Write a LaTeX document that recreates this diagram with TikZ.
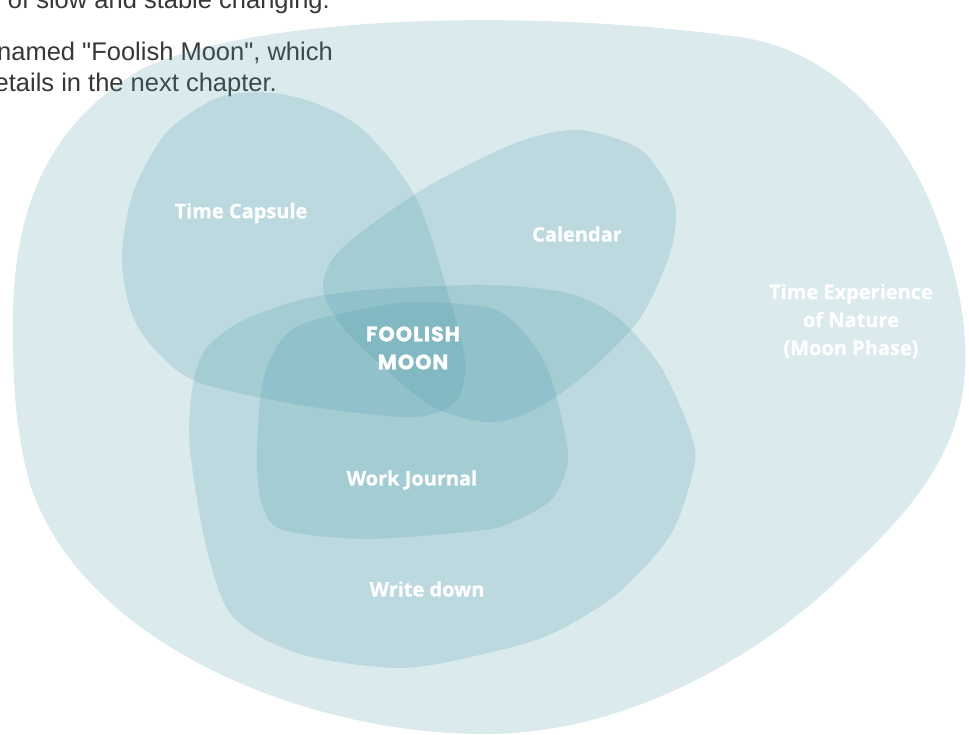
\documentclass[tikz,border=0pt]{standalone}
\usepackage{fontspec}
\newfontfamily\parafont{Liberation Sans}[Ligatures=TeXOff]
\newfontfamily\labelfont{Open Sans}[BoldFeatures={FakeBold=0.6}]
\newfontfamily\moonfont{Poppins}[LetterSpace=4,BoldFeatures={FakeBold=1}]

\definecolor{moonteal}{RGB}{70,150,165}
\definecolor{bodytext}{RGB}{55,55,55}

\tikzset{
  blob/.style={fill=moonteal, fill opacity=0.2},
  lbl/.style={text=white, align=center, inner sep=0pt,
    font=\labelfont\bfseries\fontsize{20}{28}\selectfont},
  para/.style={text=bodytext, anchor=base east, inner sep=0pt,
    font=\parafont\fontsize{25.5}{31}\selectfont}
}

\begin{document}
\begin{tikzpicture}[x=1pt,y=-1pt]
\useasboundingbox (0,0) rectangle (969,735);
\clip (0,0) rectangle (969,735);

% text of the page above the figure
\node[para] (line1) at (330,9) {of slow and stable changing.};
\node[para] (line2) at (333,61) {named "Foolish Moon", which};
\node[para] (line3) at (277,92) {etails in the next chapter.};

% time experience of nature
\fill[blob] (13,330) .. controls (12,220) and (40,130) .. (140,70)
  .. controls (240,20) and (500,5) .. (740,37)
  .. controls (860,55) and (935,170) .. (960,300)
  .. controls (980,410) and (945,480) .. (851,567)
  .. controls (760,660) and (620,735) .. (484,734)
  .. controls (300,734) and (80,640) .. (30,484)
  .. controls (15,430) and (13,380) .. (13,330) -- cycle;

% time capsule
\fill[blob] plot[smooth cycle] coordinates {(273,93) (320,105) (367,133) (417,200)
  (450,300) (465,360) (460,395) (440,412) (400,417) (300,405) (200,383) (160,355)
  (133,317) (122,260) (133,193) (167,132) (220,97)};

% calendar
\fill[blob] plot[smooth cycle] coordinates {(581,130) (641,150) (674,200) (671,250)
  (641,317) (594,367) (551,400) (517,417) (484,422) (433,407) (383,367) (345,330)
  (323,290) (340,250) (417,193) (484,157) (530,138)};

% write down
\fill[blob] plot[smooth cycle] coordinates {(485,285) (567,293) (617,317) (661,367)
  (691,434) (694,467) (671,534) (617,594) (551,634) (484,654) (400,668) (300,654)
  (233,617) (207,550) (190,450) (192,390) (205,350) (240,322) (300,300) (367,290)};

% work journal
\fill[blob] plot[smooth cycle] coordinates {(485,307) (517,325) (547,367) (565,434)
  (567,467) (551,500) (517,520) (484,530) (367,539) (283,530) (263,507) (257,467)
  (260,400) (270,360) (300,325) (400,303)};

\node[lbl] (capsule) at (241,213) {Time Capsule};
\node[lbl] (calendar) at (577,234) {Calendar};
\node[lbl] (nature) at (851,321) {Time Experience\\of Nature\\(Moon Phase)};
\node[lbl, font=\moonfont\bfseries\fontsize{21}{28}\selectfont] (moon) at (413,348) {FOOLISH\\MOON};
\node[lbl] (journal) at (412,480) {Work Journal};
\node[lbl] (writedown) at (427,589) {Write down};
\end{tikzpicture}
\end{document}
